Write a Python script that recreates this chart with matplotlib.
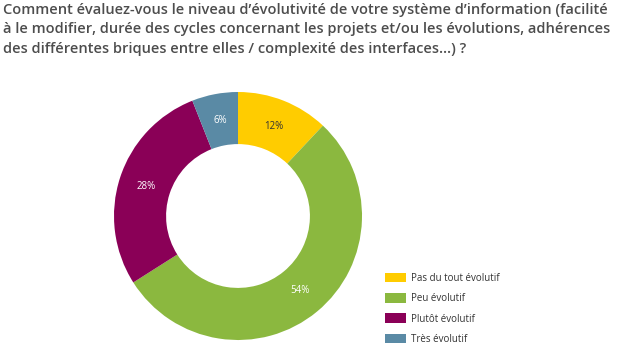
import matplotlib.pyplot as plt
from matplotlib.patches import Patch

categories = ['Pas du tout évolutif', 'Peu évolutif', 'Plutôt évolutif', 'Très évolutif']
values = [12, 54, 28, 6]
colors = ['#FFCC00', '#8BB83F', '#8A0057', '#5A8AA5']
label_colors = ['#333333', 'white', 'white', 'white']

title = ("Comment évaluez-vous le niveau d’évolutivité de votre système d’information (facilité\n"
         "à le modifier, durée des cycles concernant les projets et/ou les évolutions, adhérences\n"
         "des différentes briques entre elles / complexité des interfaces…) ?")

plt.rcParams['font.family'] = ['Open Sans', 'DejaVu Sans']

W, H = 620, 348
fig = plt.figure(figsize=(W / 100, H / 100), dpi=100)
fig.text(3 / W, 1 - 3 / H, title, ha='left', va='top', fontsize=10.5,
         fontweight='semibold', color='#4d4d4d', linespacing=1.5)

# donut
cx, cy, r = 238, 216, 124
ax = fig.add_axes([(cx - r) / W, (H - cy - r) / H, 2 * r / W, 2 * r / H])
wedges, texts = ax.pie(values, colors=colors, startangle=90, counterclock=False,
                       radius=1, wedgeprops=dict(width=0.42, edgecolor='none'),
                       labels=[f'{v}%' for v in values], labeldistance=0.78)
for t, c in zip(texts, label_colors):
    t.set_color(c)
    t.set_fontsize(7)
    t.set_ha('center')
    t.set_va('center')
ax.set_xlim(-1, 1)
ax.set_ylim(-1, 1)
ax.set_aspect('equal')

handles = [Patch(facecolor=c, edgecolor='none') for c in colors]
fig.legend(handles, categories, loc='upper left', bbox_to_anchor=(376 / W, 1 - 264 / H),
           frameon=False, fontsize=7, handlelength=2.2, handleheight=1.15,
           labelspacing=0.95, handletextpad=0.5, labelcolor='#333333')

fig.savefig('out.png', dpi=100)
